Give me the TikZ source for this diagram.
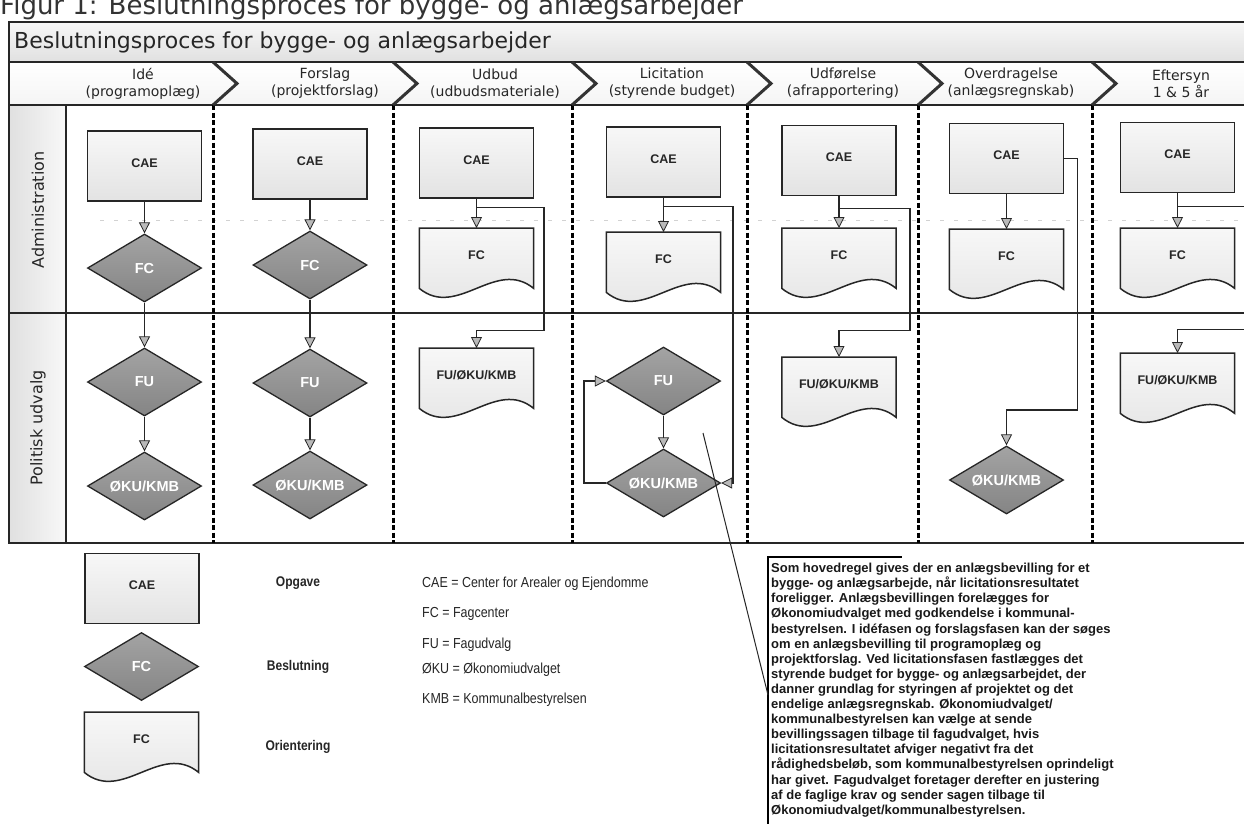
\documentclass[tikz,border=0pt]{standalone}
\usepackage{fontspec}
\setmainfont{Liberation Sans}
\newfontfamily\dejavu{DejaVu Sans}
\newfontfamily\narrowsans[FakeStretch=0.86]{Liberation Sans}
\usetikzlibrary{shapes.geometric,arrows.meta,calc}
\tikzset{
  frame/.style={draw=black!85, line width=1.6pt},
  divider/.style={draw=black, line width=3pt, dash pattern=on 5pt off 2.5pt},
  chev/.style={draw=black!80, line width=3pt, line join=miter},
  phase/.style={align=center, font=\dejavu\fontsize{14}{17}\selectfont, text=black!85},
  lanelabel/.style={rotate=90, font=\dejavu\fontsize{16}{19}\selectfont, text=black!85},
  shapefont/.style={font=\fontsize{12.5}{14}\selectfont\bfseries},
  taskbox/.style={rectangle, draw=black!85, line width=1.5pt, top color=gray!6, bottom color=gray!22,
    minimum width=114pt, minimum height=70pt, shapefont, text=black!85},
  decision/.style={diamond, draw=black!85, line width=1.3pt, top color=black!36, bottom color=black!48,
    minimum width=114pt, minimum height=68pt, aspect=1.68, font=\fontsize{14.5}{16}\selectfont\bfseries, text=white},
  docanchor/.style={rectangle, minimum width=114pt, minimum height=60pt, anchor=north},
  docfill/.style={draw=black!85, line width=1.5pt, top color=gray!6, bottom color=gray!22},
  doctext/.style={shapefont, text=black!85},
  conn/.style={draw=black!85, line width=1.4pt,
    -{Triangle[width=11pt,length=11pt,fill=gray!55,line width=0.8pt]}},
  legendlbl/.style={font=\narrowsans\fontsize{14}{16}\selectfont\bfseries, text=black!85},
  abbrev/.style={anchor=west, font=\narrowsans\fontsize{14.5}{16}\selectfont, text=black!85},
  notetext/.style={anchor=north west, align=left, font=\fontsize{13}{15.1}\selectfont\bfseries, text=black!90},
  every node/.style={inner sep=0pt}
}
\newcommand\DocNode[4]{%
  \node[docanchor] (#1) at (#2,#3) {};
  \path[docfill] (#1.north west) -- (#1.north east) -- (#1.south east)
     .. controls +(-38,-31) and +(38,31) .. (#1.south west) -- cycle;
  \node[doctext] (#1-t) at ($(#1.center)+(0,-3)$) {#4};
}
\begin{document}
\begin{tikzpicture}[x=1pt,y=-1pt]
\useasboundingbox (0,0) rectangle (1244,823);
\fill[white] (0,0) rectangle (1244,823);

% figure caption (cut by the top edge, as in the source)
\node[anchor=base west, font=\dejavu\fontsize{26}{30}\selectfont, text=black!80] (figtitle) at (0,14)
  {Figur 1: Beslutningsproces for bygge- og anlægsarbejder};

% title bar and header
\path[top color=gray!6, bottom color=gray!24] (9,22) rectangle (1250,62);
\path[top color=white, bottom color=gray!8] (9,62) rectangle (1250,105);
\node[anchor=west, font=\dejavu\fontsize{22}{26}\selectfont, text=black!85] (title) at (14,42)
  {Beslutningsproces for bygge- og anlægsarbejder};

% lane label cells
\path[left color=gray!24, right color=gray!6] (10,106) rectangle (65,312);
\path[left color=gray!24, right color=gray!6] (10,314) rectangle (65,542);

% frame
\draw[frame] (1250,22) -- (9,22) -- (9,543) -- (1250,543);
\draw[frame] (9,62) -- (1250,62);
\draw[frame] (9,105) -- (1250,105);
\draw[frame] (9,313) -- (1250,313);
\draw[frame] (66,105) -- (66,543);

% faint dashed guide in the administration lane
\draw[gray!35, line width=0.7pt, dash pattern=on 4pt off 10pt] (100,220) -- (1244,220);

% phase dividers and chevrons
\foreach \dx in {213,393,572,747,918,1092}{
  \draw[divider] (\dx,105) -- (\dx,543);
  \draw[chev] (\dx,62) -- (\dx+24,83.5) -- (\dx,105);
}

% phase labels
\node[phase] (ph1) at (143,83.5) {Idé\\(programoplæg)};
\node[phase] (ph2) at (325,83.5) {Forslag\\(projektforslag)};
\node[phase] (ph3) at (495,83.5) {Udbud\\(udbudsmateriale)};
\node[phase] (ph4) at (672,83.5) {Licitation\\(styrende budget)};
\node[phase] (ph5) at (843,83.5) {Udførelse\\(afrapportering)};
\node[phase] (ph6) at (1011,83.5) {Overdragelse\\(anlægsregnskab)};
\node[phase] (ph7) at (1181,83.5) {Eftersyn\\1 \& 5 år};

% lane labels
\node[lanelabel] (lane1) at (38,210) {Administration};
\node[lanelabel] (lane2) at (38,428) {Politisk udvalg};

% ---- column 1: Idé
\node[taskbox] (cae1) at (144.5,166) {\raisebox{6pt}{CAE}};
\node[decision] (fc1) at (144.5,268) {FC};
\node[decision] (fu1) at (144.5,382) {FU};
\node[decision] (oku1) at (144.5,486) {ØKU/KMB};
\draw[conn] (cae1) -- (fc1);
\draw[conn] (fc1) -- (fu1);
\draw[conn] (fu1) -- (oku1);

% ---- column 2: Forslag
\node[taskbox] (cae2) at (310,164) {\raisebox{6pt}{CAE}};
\node[decision] (fc2) at (310,265) {FC};
\node[decision] (fu2) at (310,383) {FU};
\node[decision] (oku2) at (310,485) {ØKU/KMB};
\draw[conn] (cae2) -- (fc2);
\draw[conn] (fc2) -- (fu2);
\draw[conn] (fu2) -- (oku2);

% ---- column 3: Udbud
\node[taskbox] (cae3) at (476.5,163) {\raisebox{6pt}{CAE}};
\DocNode{fc3}{476.5}{228}{FC}
\DocNode{pol3}{476.5}{348}{FU/ØKU/KMB}
\draw[conn] (cae3) -- (fc3);
\coordinate (b3) at ($(cae3.south)+(0,9)$);
\draw[conn] (b3) -- ++(67.5,0) -- ++(0,123) -| (pol3.north);

% ---- column 4: Licitation
\node[taskbox] (cae4) at (663.5,162) {\raisebox{6pt}{CAE}};
\DocNode{fc4}{663.5}{232}{FC}
\node[decision] (fu4) at (663.5,381) {FU};
\node[decision] (oku4) at (663.5,483) {ØKU/KMB};
\draw[conn] (cae4) -- (fc4);
\draw[conn] (fu4) -- (oku4);
\coordinate (b4) at ($(cae4.south)+(0,9)$);
\draw[conn] (b4) -- ++(69.5,0) |- (oku4.east);
\draw[conn] (oku4.west) -- ++(-22,0) |- (fu4.west);

% ---- column 5: Udførelse
\node[taskbox] (cae5) at (839,160.5) {\raisebox{6pt}{CAE}};
\DocNode{fc5}{839}{228}{FC}
\DocNode{pol5}{839}{357}{FU/ØKU/KMB}
\draw[conn] (cae5) -- (fc5);
\coordinate (b5) at ($(cae5.south)+(0,12)$);
\draw[conn] (b5) -- ++(71,0) -- ++(0,122) -| (pol5.north);

% ---- column 6: Overdragelse
\node[taskbox] (cae6) at (1006.5,158.5) {\raisebox{6pt}{CAE}};
\DocNode{fc6}{1006.5}{229}{FC}
\node[decision] (oku6) at (1006.5,480) {ØKU/KMB};
\draw[conn] (cae6) -- (fc6);
\draw[conn] (cae6.east) -- ++(13,0) -- ++(0,251.5) -| (oku6.north);

% ---- column 7: Eftersyn
\node[taskbox] (cae7) at (1177.5,157.5) {\raisebox{6pt}{CAE}};
\DocNode{fc7}{1177.5}{228}{FC}
\DocNode{pol7}{1177.5}{353}{FU/ØKU/KMB}
\draw[conn] (cae7) -- (fc7);
\coordinate (b7) at ($(cae7.south)+(0,13)$);
\draw[conn] (b7) -- ++(80,0) -- ++(0,123) -| (pol7.north);

% ---- legend
\node[taskbox] (lcae) at (142,588.5) {\raisebox{6pt}{CAE}};
\node[decision] (ldec) at (141.5,666.5) {FC};
\DocNode{ldoc}{141.5}{712}{FC}
\node[legendlbl] (lopg) at (298,583) {Opgave};
\node[legendlbl] (lbes) at (298,667) {Beslutning};
\node[legendlbl] (lori) at (298,747) {Orientering};
\node[abbrev] (ab1) at (422,584) {CAE = Center for Arealer og Ejendomme};
\node[abbrev] (ab2) at (422,614) {FC = Fagcenter};
\node[abbrev] (ab3) at (422,645) {FU = Fagudvalg};
\node[abbrev] (ab4) at (422,670) {ØKU = Økonomiudvalget};
\node[abbrev] (ab5) at (422,700) {KMB = Kommunalbestyrelsen};

% ---- note
\node[notetext] (note) at (771,563) {Som hovedregel gives der en anlægsbevilling for et\\
bygge- og anlægsarbejde, når licitationsresultatet\\
foreligger. Anlægsbevillingen forelægges for\\
Økonomiudvalget med godkendelse i kommunal-\\
bestyrelsen. I idéfasen og forslagsfasen kan der søges\\
om en anlægsbevilling til programoplæg og\\
projektforslag. Ved licitationsfasen fastlægges det\\
styrende budget for bygge- og anlægsarbejdet, der\\
danner grundlag for styringen af projektet og det\\
endelige anlægsregnskab. Økonomiudvalget/\\
kommunalbestyrelsen kan vælge at sende\\
bevillingssagen tilbage til fagudvalget, hvis\\
licitationsresultatet afviger negativt fra det\\
rådighedsbeløb, som kommunalbestyrelsen oprindeligt\\
har givet. Fagudvalget foretager derefter en justering\\
af de faglige krav og sender sagen tilbage til\\
Økonomiudvalget/kommunalbestyrelsen.};
\coordinate (nb) at ($(note.north west)+(-3,-6)$);
\draw[black, line width=2.4pt] ($(nb)+(0,280)$) -- (nb) -- ++(134,0);
\coordinate (lead) at (703,433);
\draw[black!85, line width=1pt] (lead) -- ($(nb)+(0,138)$);
\end{tikzpicture}
\end{document}
